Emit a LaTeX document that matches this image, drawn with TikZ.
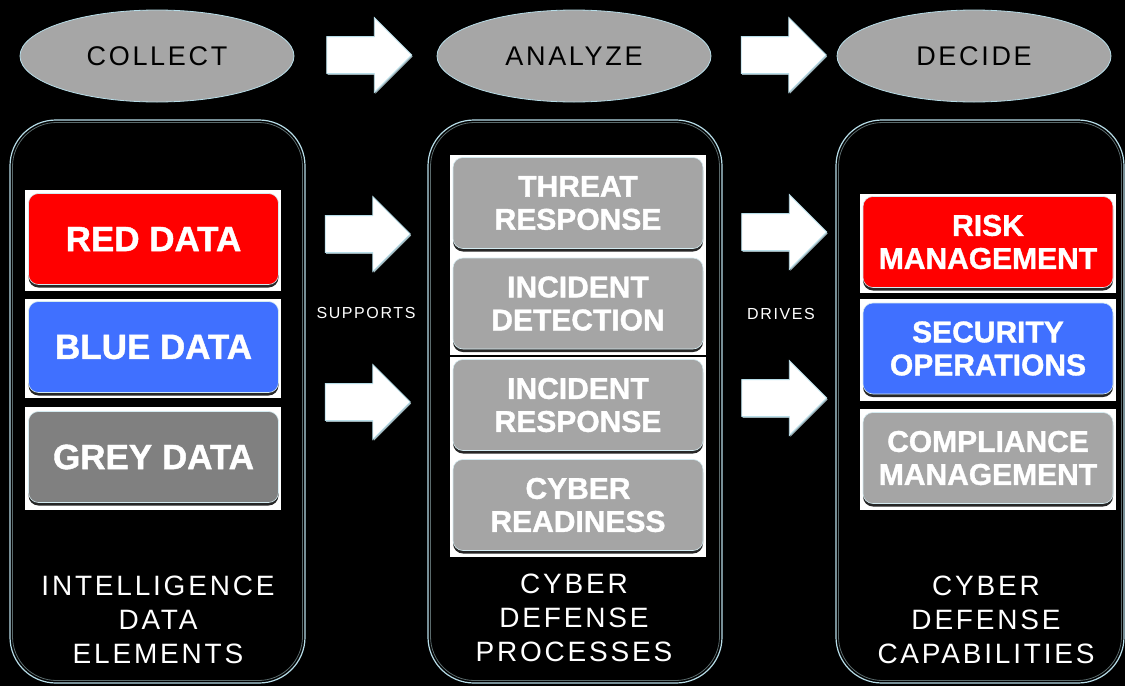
\documentclass[tikz,border=0pt]{standalone}
\usepackage{fontspec}
\setmainfont{Liberation Sans}
\newfontfamily\thinfont{Liberation Sans}[LetterSpace=10]
\newfontfamily\heavyfont{Liberation Sans Bold}[FakeBold=1.2]
\usepackage{tikz}
\usetikzlibrary{shapes.geometric,shapes.arrows,shadows}

\definecolor{stagegrey}{HTML}{A6A6A6}
\definecolor{edgecyan}{HTML}{B7DDE8}
\definecolor{panelgrey}{HTML}{5A6A6C}
\definecolor{redfill}{HTML}{FF0000}
\definecolor{bluefill}{HTML}{4070FF}
\definecolor{darkfill}{HTML}{808080}
\definecolor{lightfill}{HTML}{A5A5A5}

\tikzset{
  stage/.style={ellipse, fill=stagegrey, draw=edgecyan, line width=0.8pt,
    minimum width=274pt, minimum height=92pt, inner sep=0pt,
    font=\thinfont\fontsize{27}{30}\selectfont, text=black},
  bigarrow/.style={single arrow, fill=white, draw=edgecyan, line width=0.8pt,
    minimum height=85pt, inner xsep=0pt, inner ysep=18pt,
    single arrow head extend=19pt,
    drop shadow={shadow xshift=1pt, shadow yshift=-1.5pt, fill=edgecyan!50!gray, opacity=1}},
  panel/.style={rounded corners=46pt, draw=edgecyan, line width=1.2pt},
  panelin/.style={rounded corners=44pt, draw=panelgrey, line width=0.8pt},
  backing/.style={rectangle, fill=white, inner sep=0pt, minimum width=256pt},
  button/.style={rectangle, rounded corners=10pt, draw=edgecyan!60!white,
    line width=0.6pt, minimum width=250pt, minimum height=91pt, inner sep=0pt,
    align=center, text=white,
    drop shadow={shadow xshift=0pt, shadow yshift=-3pt, fill=black!85, opacity=1}},
  onetext/.style={font=\heavyfont\fontsize{35}{38}\selectfont},
  twotext/.style={font=\heavyfont\fontsize{30}{33}\selectfont},
  caption/.style={align=center, text=white, inner sep=0pt,
    font=\thinfont\fontsize{28}{34}\selectfont},
  verb/.style={text=white, inner sep=0pt, font=\thinfont\fontsize{16}{18}\selectfont}
}

\begin{document}
\begin{tikzpicture}[x=1pt,y=-1pt]
\fill[black] (0,0) rectangle (1125,686);
\useasboundingbox (0,0) rectangle (1125,686);

\node[stage] (collect) at (157,56) {COLLECT};
\node[stage] (analyze) at (574,56) {ANALYZE};
\node[stage] (decide) at (974,56) {DECIDE};
\node[bigarrow] (ca) at (360,55) {};
\node[bigarrow] (ad) at (774.5,55) {};

\draw[panel] (10,120) rectangle (305,683);
\draw[panelin] (12.5,122.5) rectangle (302.5,680.5);
\draw[panel] (428,120) rectangle (722,683);
\draw[panelin] (430.5,122.5) rectangle (719.5,680.5);
\draw[panel] (836,120) rectangle (1124,683);
\draw[panelin] (838.5,122.5) rectangle (1121.5,680.5);

\node[backing, minimum height=101pt] (redback) at (153,240.5) {};
\node[backing, minimum height=99pt] (blueback) at (153,348.5) {};
\node[backing, minimum height=103pt] (greyback) at (153,458.5) {};
\node[button, onetext, fill=redfill] (red) at (153.5,239) {RED DATA};
\node[button, onetext, fill=bluefill] (blue) at (153.5,347) {BLUE DATA};
\node[button, onetext, fill=darkfill] (grey) at (153.5,457) {GREY DATA};

\node[backing, minimum height=200pt] (procup) at (578,255) {};
\node[backing, minimum height=200pt] (proclow) at (578,457) {};
\node[button, twotext, fill=lightfill] (threat) at (578,203) {THREAT\\RESPONSE};
\node[button, twotext, fill=lightfill] (detect) at (578,303.5) {INCIDENT\\DETECTION};
\node[button, twotext, fill=lightfill] (respond) at (578,405) {INCIDENT\\RESPONSE};
\node[button, twotext, fill=lightfill] (ready) at (578,505) {CYBER\\READINESS};

\node[backing, minimum height=99pt] (riskback) at (988,243.5) {};
\node[backing, minimum height=102pt] (secback) at (988,350) {};
\node[backing, minimum height=101pt] (compback) at (988,459.5) {};
\node[button, twotext, fill=redfill] (risk) at (988,242) {RISK\\MANAGEMENT};
\node[button, twotext, fill=bluefill] (secops) at (988,348.5) {SECURITY\\OPERATIONS};
\node[button, twotext, fill=lightfill] (comply) at (988,458) {COMPLIANCE\\MANAGEMENT};

\node[bigarrow] (sup1) at (358.5,234) {};
\node[bigarrow] (sup2) at (358.5,402) {};
\node[verb] (supports) at (366,313) {SUPPORTS};
\node[bigarrow] (drv1) at (775,232) {};
\node[bigarrow] (drv2) at (775,398) {};
\node[verb] (drives) at (781,314) {DRIVES};

\node[caption] (elements) at (158,620) {INTELLIGENCE\\DATA\\ELEMENTS};
\node[caption] (processes) at (574,618) {CYBER\\DEFENSE\\PROCESSES};
\node[caption] (capabilities) at (986,620) {CYBER\\DEFENSE\\CAPABILITIES};
\end{tikzpicture}
\end{document}
